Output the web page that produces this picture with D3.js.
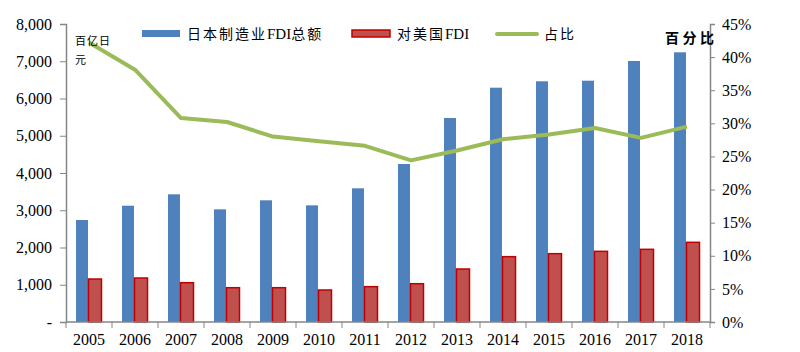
<!DOCTYPE html>
<html>
<head>
<meta charset="utf-8">
<script src="https://cdn.jsdelivr.net/npm/d3@7"></script>
<style>
  body { margin: 0; background: #fff; }
  text { font-family: "Liberation Serif", "Times New Roman", "Noto Sans CJK SC", serif; fill: #000; }
</style>
</head>
<body>
<svg id="chart" width="800" height="352"></svg>
<script>
// data
const years = ["2005","2006","2007","2008","2009","2010","2011","2012","2013","2014","2015","2016","2017","2018"];
const totalFDI = [2738, 3122, 3428, 3025, 3267, 3132, 3589, 4242, 5476, 6290, 6462, 6478, 7007, 7240];
const usFDI = [1154, 1181, 1055, 921, 921, 859, 948, 1028, 1423, 1754, 1834, 1897, 1951, 2139];
const share = [42.2, 38.1, 30.8, 30.2, 28.0, 27.3, 26.6, 24.4, 25.9, 27.6, 28.3, 29.3, 27.8, 29.5];
const leftTicks = [0, 1000, 2000, 3000, 4000, 5000, 6000, 7000, 8000];
const rightTicks = [0, 5, 10, 15, 20, 25, 30, 35, 40, 45];

const svg = d3.select("#chart");
const plotLeft = 66, plotRight = 710, plotTop = 24, plotBottom = 322;
const axisColor = "#868686";
const serif = "'Liberation Serif', 'Times New Roman', serif";

const x = d3.scaleBand().domain(years).range([plotLeft, plotRight]);
const yL = d3.scaleLinear().domain([0, 8000]).range([plotBottom, plotTop]);
const yR = d3.scaleLinear().domain([0, 45]).range([plotBottom, plotTop]);

// bars
const bw = 12, rw = 13;
svg.append("g").selectAll("rect")
    .data(years)
    .join("rect")
        .attr("x", d => x(d) + x.bandwidth() / 2 - bw - 1)
        .attr("y", (d, i) => yL(totalFDI[i]))
        .attr("width", bw)
        .attr("height", (d, i) => plotBottom - yL(totalFDI[i]))
        .style("fill", "#4F81BD");

svg.append("g").selectAll("rect")
    .data(years)
    .join("rect")
        .attr("x", d => x(d) + x.bandwidth() / 2 - 0.5)
        .attr("y", (d, i) => yL(usFDI[i]))
        .attr("width", rw)
        .attr("height", (d, i) => plotBottom - yL(usFDI[i]))
        .style("fill", "#C0504D")
        .style("stroke", "#C00000")
        .style("stroke-width", 1.5);

// share line
const line = d3.line()
    .x((d, i) => x(years[i]) + x.bandwidth() / 2)
    .y(d => yR(d));
svg.append("path")
    .datum(share)
    .attr("d", line)
    .style("fill", "none")
    .style("stroke", "#9BBB59")
    .style("stroke-width", 4)
    .style("stroke-linejoin", "round");

// left axis
const gL = svg.append("g").attr("transform", `translate(${plotLeft},0)`)
    .call(d3.axisLeft(yL).tickValues(leftTicks).tickSize(6).tickPadding(8)
        .tickFormat(d => d === 0 ? "-" : d3.format(",")(d)));
// right axis
const gR = svg.append("g").attr("transform", `translate(${plotRight},0)`)
    .call(d3.axisRight(yR).tickValues(rightTicks).tickSize(5).tickPadding(7)
        .tickFormat(d => d + "%"));
// bottom axis
const gB = svg.append("g").attr("transform", `translate(0,${plotBottom})`)
    .call(d3.axisBottom(x).tickSize(0).tickPadding(12));
gB.selectAll(".tick")
    .append("line")
        .attr("x1", -x.bandwidth() / 2).attr("x2", -x.bandwidth() / 2)
        .attr("y1", 0).attr("y2", 6)
        .style("stroke", axisColor);
gB.append("line")
    .attr("x1", plotRight).attr("x2", plotRight).attr("y1", 0).attr("y2", 6)
    .style("stroke", axisColor);

[gL, gR, gB].forEach(g => {
    g.attr("font-family", null);
    g.select(".domain").style("stroke", axisColor).style("stroke-width", 1.5);
    g.selectAll(".tick line").style("stroke", axisColor);
    g.selectAll(".tick text")
        .style("font-family", serif)
        .style("font-size", "16px")
        .style("fill", "#000");
});
gB.select(".domain").attr("d", `M${plotLeft},0H${plotRight}`);

// unit labels
svg.append("text").attr("x", 75).attr("y", 45).text("百亿日")
    .style("font-size", "11px").style("letter-spacing", "1px");
svg.append("text").attr("x", 75).attr("y", 64).text("元")
    .style("font-size", "11px");
svg.append("text").attr("x", 665).attr("y", 43).text("百 分 比")
    .style("font-size", "14px").style("font-weight", "bold");

// legend
const legend = [
    { parts: ["日本制造业", "FDI", "总额"], type: "bar", x: 142 },
    { parts: ["对美国", "FDI"], type: "bar2", x: 352 },
    { parts: ["占比"], type: "line", x: 497 }
];
const lg = svg.append("g").selectAll("g").data(legend).join("g")
    .attr("transform", d => `translate(${d.x},34)`);
lg.filter(d => d.type === "bar").append("rect")
    .attr("x", 0).attr("y", -4).attr("width", 38).attr("height", 7)
    .style("fill", "#4F81BD");
lg.filter(d => d.type === "bar2").append("rect")
    .attr("x", 0).attr("y", -4).attr("width", 38).attr("height", 7)
    .style("fill", "#C0504D").style("stroke", "#C00000").style("stroke-width", 1.5);
lg.filter(d => d.type === "line").append("line")
    .attr("x1", 0).attr("x2", 40).attr("y1", 0).attr("y2", 0)
    .style("stroke", "#9BBB59").style("stroke-width", 4).style("stroke-linecap", "round");
lg.append("text")
    .attr("x", d => d.type === "line" ? 47 : 45)
    .attr("y", 5)
    .style("font-size", "14px")
    .selectAll("tspan")
    .data(d => d.parts)
    .join("tspan")
        .text(t => t)
        .style("font-size", t => t === "FDI" ? "15px" : "14px")
        .style("letter-spacing", t => t === "FDI" ? "0px" : "2px");
</script>
</body>
</html>
